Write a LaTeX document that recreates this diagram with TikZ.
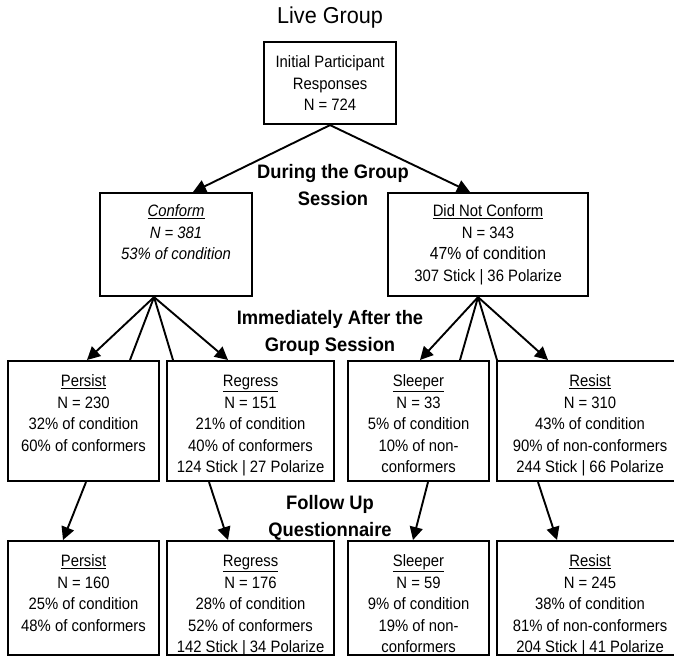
\documentclass[tikz,border=0pt]{standalone}
\usepackage{fontspec}
\setmainfont{Liberation Sans}
\newfontfamily\bodyfont[FakeStretch=0.9]{Liberation Sans}
\newfontfamily\headfont[FakeStretch=0.94]{Liberation Sans}
\usetikzlibrary{arrows.meta}

\begin{document}
\begin{tikzpicture}[x=1pt,y=-1pt,
  stage/.style={draw, line width=2.1pt, rectangle, inner sep=0pt, anchor=north west},
  info/.style={anchor=north, align=center, inner sep=0pt,
    font=\bodyfont\fontsize{16.5}{21.5}\selectfont},
  phase/.style={align=center, inner sep=0pt, font=\headfont\bfseries\fontsize{19.5}{27}\selectfont},
  link/.style={line width=1.9pt},
  flow/.style={link, -{Triangle[length=13pt,width=13pt]}}]
\useasboundingbox (0,0) rectangle (674,665);

% title
\node[font=\headfont\fontsize{23}{26}\selectfont, inner sep=0pt] (title) at (330,18) {Live Group};

% boxes
\node[stage, minimum width=132pt, minimum height=82pt] (start) at (263,41) {};
\node[stage, minimum width=152pt, minimum height=103pt] (conform) at (99,192) {};
\node[stage, minimum width=200pt, minimum height=103pt] (dnc) at (387,192) {};

\node[stage, minimum width=151pt, minimum height=120pt] (persistA) at (7,360) {};
\node[stage, minimum width=167pt, minimum height=120pt] (regressA) at (166,360) {};
\node[stage, minimum width=141pt, minimum height=120pt] (sleeperA) at (347,360) {};
\node[stage, minimum width=186pt, minimum height=120pt] (resistA) at (496,360) {};

\node[stage, minimum width=151pt, minimum height=114pt] (persistB) at (7,540) {};
\node[stage, minimum width=167pt, minimum height=114pt] (regressB) at (166,540) {};
\node[stage, minimum width=141pt, minimum height=114pt] (sleeperB) at (347,540) {};
\node[stage, minimum width=186pt, minimum height=114pt] (resistB) at (496,540) {};

% box contents
\node[info] (startT) at ([yshift=-11.5pt]start.north)
  {\strut Initial Participant\\Responses\\N = 724};
\node[info, font=\bodyfont\itshape\fontsize{16.5}{21.5}\selectfont] (conformT) at ([yshift=-9.5pt]conform.north)
  {\strut\underline{Conform}\\N = 381\\53\% of condition};
\node[info] (dncT) at ([yshift=-9.5pt]dnc.north)
  {\strut\underline{Did Not Conform}\\N = 343\\{\fontsize{17.5}{21.5}\selectfont 47\% of condition}\\307 Stick | 36 Polarize};

\node[info] (persistAT) at ([yshift=-11.5pt]persistA.north)
  {\strut\underline{Persist}\\N = 230\\32\% of condition\\60\% of conformers};
\node[info] (regressAT) at ([yshift=-11.5pt]regressA.north)
  {\strut\underline{Regress}\\N = 151\\21\% of condition\\40\% of conformers\\124 Stick | 27 Polarize};
\node[info] (sleeperAT) at ([yshift=-11.5pt]sleeperA.north)
  {\strut\underline{Sleeper}\\N = 33\\5\% of condition\\10\% of non-\\conformers};
\node[info] (resistAT) at ([yshift=-11.5pt]resistA.north)
  {\strut\underline{Resist}\\N = 310\\43\% of condition\\90\% of non-conformers\\244 Stick | 66 Polarize};

\node[info] (persistBT) at ([yshift=-11.5pt]persistB.north)
  {\strut\underline{Persist}\\N = 160\\25\% of condition\\48\% of conformers};
\node[info] (regressBT) at ([yshift=-11.5pt]regressB.north)
  {\strut\underline{Regress}\\N = 176\\28\% of condition\\52\% of conformers\\142 Stick | 34 Polarize};
\node[info] (sleeperBT) at ([yshift=-11.5pt]sleeperB.north)
  {\strut\underline{Sleeper}\\N = 59\\9\% of condition\\19\% of non-\\conformers};
\node[info] (resistBT) at ([yshift=-11.5pt]resistB.north)
  {\strut\underline{Resist}\\N = 245\\38\% of condition\\81\% of non-conformers\\204 Stick | 41 Polarize};

% phase labels
\node[phase] (during) at (333,185) {During the Group\\Session};
\node[phase] (after) at (330,333) {Immediately After the\\Group Session};
\node[phase] (follow) at (330,518) {Follow Up\\Questionnaire};

% first split
\draw[flow] (start.south) -- ([xshift=94pt]conform.north west);
\draw[flow] (start.south) -- ([xshift=83pt]dnc.north west);

% conformers split
\coordinate (cfork) at ([xshift=-22pt]conform.south);
\draw[flow] (cfork) -- ([xshift=80pt]persistA.north west);
\draw[link] (cfork) -- ([xshift=123pt]persistA.north west);
\draw[link] (cfork) -- ([xshift=7pt]regressA.north west);
\draw[flow] (cfork) -- ([xshift=62pt]regressA.north west);

% non-conformers split
\coordinate (dfork) at ([xshift=-10pt]dnc.south);
\draw[flow] (dfork) -- ([xshift=73pt]sleeperA.north west);
\draw[link] (dfork) -- ([xshift=113pt]sleeperA.north west);
\draw[link] (dfork) -- ([xshift=1pt]resistA.north west);
\draw[flow] (dfork) -- ([xshift=52pt]resistA.north west);

% follow up
\draw[flow] ([xshift=79pt]persistA.south west) -- ([xshift=56pt]persistB.north west);
\draw[flow] ([xshift=43pt]regressA.south west) -- ([xshift=62pt]regressB.north west);
\draw[flow] ([xshift=81pt]sleeperA.south west) -- ([xshift=66pt]sleeperB.north west);
\draw[flow] ([xshift=42pt]resistA.south west) -- ([xshift=61pt]resistB.north west);
\end{tikzpicture}
\end{document}
